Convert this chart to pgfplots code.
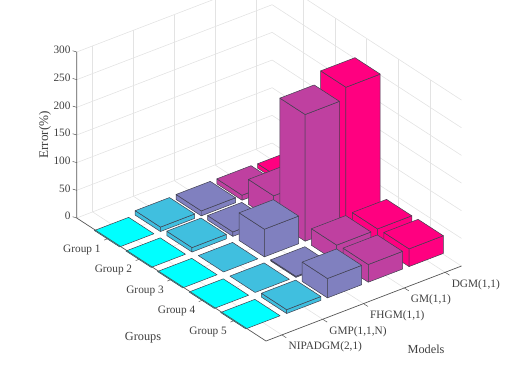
\documentclass[border=0pt]{standalone}
\usepackage{pgfplots}
\pgfplotsset{compat=1.18}
\usepackage{fontspec}
\setmainfont{Liberation Serif}
\definecolor{c1}{HTML}{00FFFF}
\definecolor{c2}{HTML}{40BFDF}
\definecolor{c3}{HTML}{8080BF}
\definecolor{c4}{HTML}{BF40A0}
\definecolor{c5}{HTML}{FF0080}
\definecolor{edgec}{HTML}{40404F}
\definecolor{txt}{HTML}{404040}
\definecolor{axc}{HTML}{555555}

\pgfplotsset{barface/.style={fill=#1,draw=edgec,line width=0.5pt,line join=round}}

% one bar: model index, group position (1 = Group 5), height, colour
\newcommand{\barbox}[4]{%
  \pgfmathsetmacro\xa{#1-0.42}\pgfmathsetmacro\xb{#1+0.42}%
  \pgfmathsetmacro\ya{#2-0.40}\pgfmathsetmacro\yb{#2+0.40}%
  \addplot3[barface=#4] coordinates {(\xa,\yb,0)(\xa,\ya,0)(\xa,\ya,#3)(\xa,\yb,#3)(\xa,\yb,0)};
  \addplot3[barface=#4] coordinates {(\xa,\ya,0)(\xb,\ya,0)(\xb,\ya,#3)(\xa,\ya,#3)(\xa,\ya,0)};
  \addplot3[barface=#4] coordinates {(\xa,\ya,#3)(\xb,\ya,#3)(\xb,\yb,#3)(\xa,\yb,#3)(\xa,\ya,#3)};
}
% almost zero bar: only the top shows
\newcommand{\barflat}[4]{%
  \pgfmathsetmacro\xa{#1-0.42}\pgfmathsetmacro\xb{#1+0.42}%
  \pgfmathsetmacro\ya{#2-0.40}\pgfmathsetmacro\yb{#2+0.40}%
  \addplot3[barface=#4] coordinates {(\xa,\ya,#3)(\xb,\ya,#3)(\xb,\yb,#3)(\xa,\yb,#3)(\xa,\ya,#3)};
}

\begin{document}
\begin{tikzpicture}[x=1bp,y=1bp]
\path[use as bounding box] (0,0) rectangle (526,364);
\begin{axis}[
    at={(76.7bp,23bp)},
    anchor=south west,
    x={(40.8bp,15.65bp)},
    y={(-31.55bp,20.5bp)},
    z={(0bp,0.5533bp)},
    xmin=0.61, xmax=5.4,
    ymin=0, ymax=6,
    zmin=0, zmax=300,
    clip=false,
    xtick={1,2,3,4,5},
    ytick={1,2,3,4,5},
    ztick={0,50,100,150,200,250,300},
    xticklabels={{NIPADGM(2,1)},{GMP(1,1,N)},{FHGM(1,1)},{GM(1,1)},{DGM(1,1)}},
    yticklabels={Group 5,Group 4,Group 3,Group 2,Group 1},
    /pgf/number format/assume math mode=true,
    tick label style={font=\fontsize{11.3bp}{13bp}\selectfont,text=txt},
    label style={font=\fontsize{12.3bp}{14bp}\selectfont,text=txt},
    xticklabel style={anchor=north west,inner sep=1pt,xshift=5.5pt,yshift=-6pt},
    yticklabel style={anchor=north east,inner sep=1pt,xshift=-6.5pt,yshift=-5pt},
    zticklabel style={anchor=east,inner sep=2pt,xshift=-4pt,yshift=2pt},
    xtick pos=left, ytick pos=left, ztick pos=left,
    major tick length=0pt,
    axis line style={draw=none},
    grid=major,
    grid style={draw=black!11,line width=0.6pt},
    xlabel={Models},
    ylabel={Groups},
    zlabel={Error(\%)},
    xlabel style={at={(axis cs:2.887,-2.128,0)},anchor=center,rotate=0,sloped=false},
    ylabel style={at={(axis cs:-1.214,1.539,0)},anchor=center,rotate=0,sloped=false},
    zlabel style={at={(axis cs:0.121,6.373,150)},anchor=center,rotate=0,font=\fontsize{13.2bp}{15bp}\selectfont},
]
% group 1 row, back to front
\barbox{5}{5}{8}{c5}\barbox{4}{5}{9}{c4}\barbox{3}{5}{9}{c3}\barbox{2}{5}{8}{c2}\barflat{1}{5}{0.5}{c1}
% group 2
\barbox{5}{4}{30}{c5}\barbox{4}{4}{45}{c4}\barbox{3}{4}{8}{c3}\barbox{2}{4}{8}{c2}\barflat{1}{4}{0.5}{c1}
% group 3
\barbox{5}{3}{250}{c5}\barbox{4}{3}{229}{c4}\barbox{3}{3}{50}{c3}\barflat{2}{3}{1}{c2}\barflat{1}{3}{0.5}{c1}
% group 4
\barbox{5}{2}{31}{c5}\barbox{4}{2}{30}{c4}\barbox{3}{2}{2}{c3}\barflat{2}{2}{1}{c2}\barflat{1}{2}{0.5}{c1}
% group 5
\barbox{5}{1}{32}{c5}\barbox{4}{1}{32}{c4}\barbox{3}{1}{35}{c3}\barbox{2}{1}{7}{c2}\barflat{1}{1}{0.5}{c1}
% the three drawn box edges and their ticks
\draw[axc,line width=0.7pt] (axis cs:0.61,6,300) -- (axis cs:0.61,6,0) -- (axis cs:0.61,0,0) -- (axis cs:5.4,0,0);
\pgfplotsinvokeforeach{1,2,3,4,5}{
  \draw[axc,line width=0.5pt] (axis cs:#1,0,0) -- (axis cs:#1,-0.14,0);
  \draw[axc,line width=0.5pt] (axis cs:0.61,#1,0) -- (axis cs:0.51,#1,0);
}
\pgfplotsinvokeforeach{0,50,100,150,200,250,300}{
  \draw[axc,line width=0.5pt] (axis cs:0.61,6,#1) -- (axis cs:0.61,6.13,#1-2.5);
}
\end{axis}
\end{tikzpicture}
\end{document}
